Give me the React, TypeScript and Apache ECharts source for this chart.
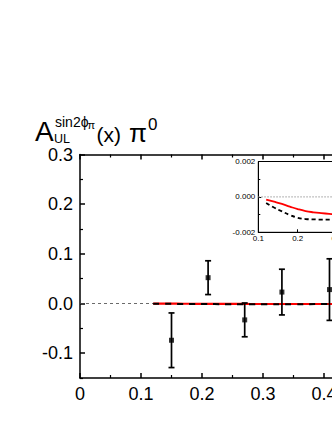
import React, { useEffect, useRef } from "react";
import * as echarts from "echarts";

// Measured data points (main panel)
const dataX = [0.15, 0.21, 0.27, 0.331, 0.409];
const dataY = [-0.074, 0.052, -0.033, 0.023, 0.028];
const dataErr = [0.055, 0.034, 0.034, 0.046, 0.062];

// Theory curves (shown in inset; ~0 on main scale)
const curveX = [0.12, 0.14, 0.16, 0.18, 0.2, 0.22, 0.24, 0.26, 0.28, 0.3, 0.35, 0.4, 0.45, 0.5];
const curveRed = [-0.00015, -0.00027, -0.0004, -0.00055, -0.00069, -0.0008, -0.00087, -0.00092, -0.00096, -0.00099, -0.00102, -0.00104, -0.00105, -0.00105];
const curveBlack = [-0.00034, -0.0006, -0.00082, -0.00102, -0.00118, -0.00125, -0.00127, -0.00128, -0.00128, -0.00128, -0.00127, -0.00125, -0.00122, -0.00118];

// Tick values
const mainYMajor = [-0.1, 0, 0.1, 0.2, 0.3];
const mainYMinor = [-0.15, -0.05, 0.05, 0.15, 0.25];

const FONT = "'Liberation Sans', Arial, Helvetica, sans-serif";

export default function App() {
  const ref = useRef<HTMLDivElement>(null);
  useEffect(() => {
    if (!ref.current) return;
    const chart = echarts.init(ref.current, undefined, { renderer: "svg" });
    const axLine = { show: true, onZero: false, lineStyle: { color: "#000", width: 1.5 } };
    const pairs = (ys: number[]) => curveX.map((x, i) => [x, ys[i]]);
    chart.setOption({
      animation: false,
      backgroundColor: "#fff",
      grid: [
        { left: 80, top: 154.5, width: 366, height: 223.5, show: false },
        {
          left: 258.3, top: 161.5, width: 157.6, height: 70.8, show: true,
          backgroundColor: "#fff", borderColor: "#000", borderWidth: 1, z: 5,
        },
      ],
      xAxis: [
        {
          type: "value", gridIndex: 0, min: 0, max: 0.6, interval: 0.1, position: "bottom",
          axisLine: axLine,
          axisTick: { show: true, inside: true, length: 5, lineStyle: { color: "#000", width: 1.5 } },
          minorTick: { show: true, splitNumber: 2, length: 3, lineStyle: { color: "#000", width: 1.2 } },
          splitLine: { show: false },
          axisLabel: {
            fontSize: 18, color: "#000", fontFamily: FONT, margin: 7,
            formatter: (v: number) => (Math.abs(v) < 1e-9 ? "0" : v.toFixed(1)),
          },
        },
        {
          type: "value", gridIndex: 0, min: 0, max: 0.6, interval: 0.1, position: "top",
          axisLine: axLine,
          axisTick: { show: true, inside: true, length: 5, lineStyle: { color: "#000", width: 1.5 } },
          minorTick: { show: true, splitNumber: 2, length: 3, lineStyle: { color: "#000", width: 1.2 } },
          splitLine: { show: false },
          axisLabel: { show: false },
        },
        {
          type: "value", gridIndex: 1, min: 0.1, max: 0.5, interval: 0.1, position: "bottom",
          axisLine: { show: true, onZero: false, lineStyle: { color: "#000", width: 1 } },
          axisTick: { show: true, inside: true, length: 3, lineStyle: { color: "#000", width: 1 } },
          splitLine: { show: false },
          axisLabel: { fontSize: 8, color: "#000", fontFamily: FONT, margin: 2, formatter: (v: number) => v.toFixed(1) },
          z: 6,
        },
      ],
      yAxis: [
        {
          type: "value", gridIndex: 0, min: -0.15, max: 0.3, position: "left",
          axisLine: axLine,
          axisTick: { show: true, inside: true, length: 5, customValues: mainYMajor, lineStyle: { color: "#000", width: 1.5 } },
          splitLine: { show: false },
          axisLabel: {
            fontSize: 18, color: "#000", fontFamily: FONT, margin: 7, customValues: mainYMajor,
            formatter: (v: number) => v.toFixed(1),
          },
        },
        {
          type: "value", gridIndex: 0, min: -0.15, max: 0.3, position: "left",
          axisLine: { show: false, onZero: false },
          axisTick: { show: true, inside: true, length: 3, customValues: mainYMinor, lineStyle: { color: "#000", width: 1.2 } },
          splitLine: { show: false },
          axisLabel: { show: false },
        },
        {
          type: "value", gridIndex: 1, min: -0.002, max: 0.002, interval: 0.002, position: "left",
          axisLine: { show: true, onZero: false, lineStyle: { color: "#000", width: 1 } },
          axisTick: { show: true, inside: true, length: 3, lineStyle: { color: "#000", width: 1 } },
          minorTick: { show: true, splitNumber: 2, length: 2, lineStyle: { color: "#000", width: 1 } },
          splitLine: { show: false },
          axisLabel: { fontSize: 8, color: "#000", fontFamily: FONT, margin: 3, formatter: (v: number) => v.toFixed(3) },
          z: 6,
        },
      ],
      series: [
        {
          type: "line", xAxisIndex: 0, yAxisIndex: 0, data: [[0, 0], [0.6, 0]], symbol: "none",
          lineStyle: { color: "#444", width: 0.8, type: [3, 3] }, silent: true, z: 1,
        },
        {
          type: "line", xAxisIndex: 0, yAxisIndex: 0, data: pairs(curveRed), symbol: "none", smooth: true,
          lineStyle: { color: "#ff0000", width: 2.2 }, z: 2,
        },
        {
          type: "line", xAxisIndex: 0, yAxisIndex: 0, data: pairs(curveBlack), symbol: "none", smooth: true,
          lineStyle: { color: "#000", width: 2, type: [6, 6] }, z: 3,
        },
        {
          type: "custom", xAxisIndex: 0, yAxisIndex: 0, z: 4,
          data: dataX.map((x, i) => [x, dataY[i], dataErr[i]]),
          encode: { x: 0, y: 1 },
          renderItem: (params: any, api: any) => {
            const x = api.value(0), y = api.value(1), e = api.value(2);
            const t = api.coord([x, y + e]);
            const b = api.coord([x, y - e]);
            const w = 3;
            const st = { stroke: "#000", lineWidth: 1.7 };
            return {
              type: "group",
              children: [
                { type: "line", shape: { x1: t[0], y1: t[1], x2: b[0], y2: b[1] }, style: st },
                { type: "line", shape: { x1: t[0] - w, y1: t[1], x2: t[0] + w, y2: t[1] }, style: st },
                { type: "line", shape: { x1: b[0] - w, y1: b[1], x2: b[0] + w, y2: b[1] }, style: st },
              ],
            };
          },
        },
        {
          type: "scatter", xAxisIndex: 0, yAxisIndex: 0, z: 5,
          data: dataX.map((x, i) => [x, dataY[i]]), symbol: "rect", symbolSize: 5,
          itemStyle: { color: "#000" },
        },
        {
          type: "line", xAxisIndex: 2, yAxisIndex: 2, data: [[0.1, 0], [0.5, 0]], symbol: "none", z: 6,
          lineStyle: { color: "#999", width: 1, type: [1.5, 1.5] },
        },
        {
          type: "line", xAxisIndex: 2, yAxisIndex: 2, data: pairs(curveRed), symbol: "none", smooth: true, z: 7,
          lineStyle: { color: "#ff0000", width: 1.8 },
        },
        {
          type: "line", xAxisIndex: 2, yAxisIndex: 2, data: pairs(curveBlack), symbol: "none", smooth: true, z: 8,
          lineStyle: { color: "#000", width: 1.8, type: [4, 3] },
        },
      ],
      graphic: [
        { type: "text", x: 35, y: 131.7, style: { text: "A", fontSize: 28, fontFamily: FONT, fill: "#000", verticalAlign: "middle" } },
        { type: "text", x: 55, y: 122, style: { text: "sin2ϕ", fontSize: 14, fontFamily: FONT, fill: "#000", verticalAlign: "middle" } },
        { type: "text", x: 87.5, y: 124.5, style: { text: "π", fontSize: 11, fontFamily: FONT, fill: "#000", verticalAlign: "middle" } },
        { type: "text", x: 54, y: 139, style: { text: "UL", fontSize: 12.5, fontFamily: FONT, fill: "#000", verticalAlign: "middle" } },
        { type: "text", x: 96.5, y: 134, style: { text: "(x)", fontSize: 21, fontFamily: FONT, fill: "#000", verticalAlign: "middle" } },
        { type: "text", x: 129, y: 133, style: { text: "π", fontSize: 26, fontFamily: FONT, fill: "#000", verticalAlign: "middle" } },
        { type: "text", x: 148, y: 124.7, style: { text: "0", fontSize: 17, fontFamily: FONT, fill: "#000", verticalAlign: "middle" } },
      ],
    });
    return () => chart.dispose();
  }, []);
  return (
    <div style={{ position: "fixed", left: 0, top: 0, width: 332, height: 430, overflow: "hidden", background: "#fff" }}>
      <div ref={ref} style={{ width: 480, height: 430 }} />
    </div>
  );
}
